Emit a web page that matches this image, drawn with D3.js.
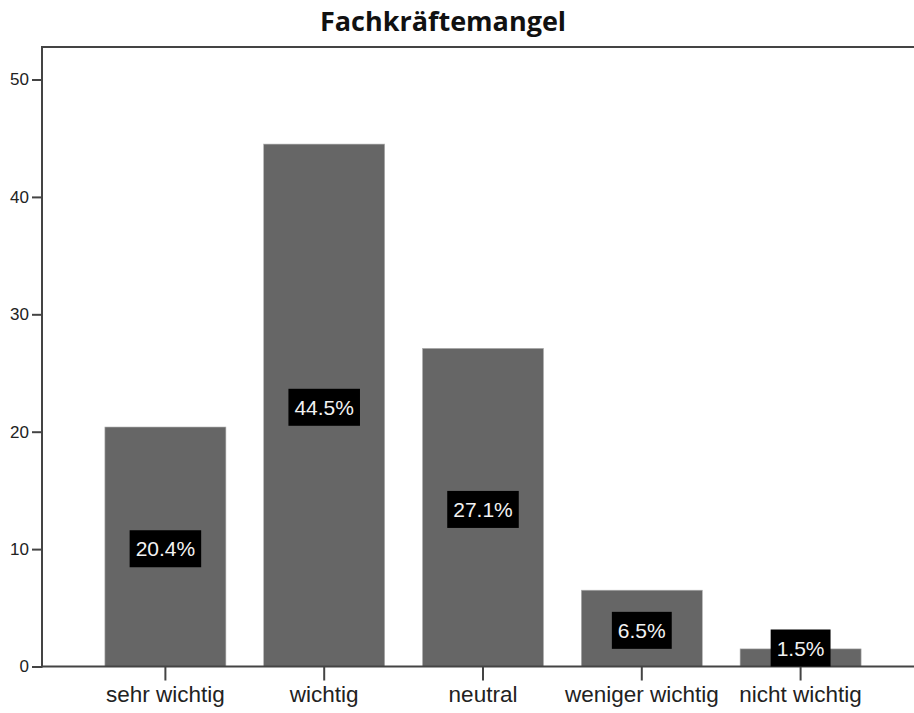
<!DOCTYPE html>
<html>
<head>
<meta charset="utf-8">
<script src="https://cdn.jsdelivr.net/npm/d3@7"></script>
<style>
  body { margin: 0; background: #fff; }
  text { font-family: "Liberation Sans", Arial, sans-serif; }
</style>
</head>
<body>
<script>
var categories = ["sehr wichtig", "wichtig", "neutral", "weniger wichtig", "nicht wichtig"];
var percents = [20.4, 44.5, 27.1, 6.5, 1.5];
var yTicks = [0, 10, 20, 30, 40, 50];
var title = "Fachkräftemangel";

var width = 914,
    height = 713,
    plotLeft = 42,
    plotTop = 47,
    plotBottom = 666.5;

var svg = d3.select("body").append("svg")
    .attr("width", width)
    .attr("height", height);

var x = d3.scaleBand()
    .domain(categories)
    .range([86, 880])
    .paddingInner(0.238)
    .paddingOuter(0.119);

var y = d3.scaleLinear()
    .domain([0, 52.77])
    .range([plotBottom, plotTop]);

// title
svg.append("text")
    .attr("x", 443)
    .attr("y", 31)
    .attr("text-anchor", "middle")
    .style("font-family", "'Open Sans', sans-serif")
    .style("font-weight", "700")
    .style("font-size", "27px")
    .attr("fill", "#111")
    .text(title);

// bars
svg.selectAll("rect.bar")
    .data(percents)
    .enter().append("rect")
    .attr("class", "bar")
    .attr("x", function(d, i) { return x(categories[i]); })
    .attr("y", function(d) { return y(d); })
    .attr("width", x.bandwidth())
    .attr("height", function(d) { return y(0) - y(d); })
    .attr("fill", "#666666")
    .attr("stroke", "#b0b0b0")
    .attr("stroke-width", 0.6);

// y axis
var yAxis = svg.append("g")
    .attr("transform", "translate(" + plotLeft + ",0)")
    .call(d3.axisLeft(y).tickValues(yTicks).tickSize(10).tickPadding(3));
yAxis.select(".domain").remove();
yAxis.selectAll("line").attr("stroke", "#444").attr("stroke-width", 2);
yAxis.selectAll("text")
    .style("font-family", "'Liberation Sans Narrow', 'Arial Narrow', sans-serif")
    .style("font-size", "17px")
    .attr("fill", "#222");

// x axis
var xAxis = svg.append("g")
    .attr("transform", "translate(0," + plotBottom + ")")
    .call(d3.axisBottom(x).tickSize(14).tickPadding(6));
xAxis.select(".domain").remove();
xAxis.selectAll("line").attr("stroke", "#444").attr("stroke-width", 2);
xAxis.selectAll("text")
    .style("font-size", "22.5px")
    .attr("fill", "#222");

// frame lines
svg.append("line")
    .attr("x1", plotLeft).attr("x2", width)
    .attr("y1", plotTop).attr("y2", plotTop)
    .attr("stroke", "#444").attr("stroke-width", 2);
svg.append("line")
    .attr("x1", plotLeft).attr("x2", plotLeft)
    .attr("y1", plotTop - 1).attr("y2", plotBottom + 1)
    .attr("stroke", "#444").attr("stroke-width", 2);
svg.append("line")
    .attr("x1", plotLeft).attr("x2", width)
    .attr("y1", plotBottom).attr("y2", plotBottom)
    .attr("stroke", "#444").attr("stroke-width", 2);

// value labels in black boxes
var boxH = 37;
var labels = svg.selectAll("g.lbl")
    .data(percents)
    .enter().append("g")
    .attr("class", "lbl");

labels.each(function(d, i) {
    var g = d3.select(this);
    var cx = x(categories[i]) + x.bandwidth() / 2;
    var cy = Math.min(y(d / 2) + 2, plotBottom - boxH / 2);
    var rect = g.append("rect").attr("fill", "#000");
    var t = g.append("text")
        .attr("x", cx)
        .attr("y", cy)
        .attr("dy", "0.36em")
        .attr("text-anchor", "middle")
        .style("font-size", "21px")
        .attr("fill", "#f2f2f2")
        .text(d.toFixed(1) + "%");
    var w = t.node().getBBox().width + 12;
    rect.attr("x", cx - w / 2)
        .attr("y", cy - boxH / 2)
        .attr("width", w)
        .attr("height", boxH);
});
</script>
</body>
</html>
